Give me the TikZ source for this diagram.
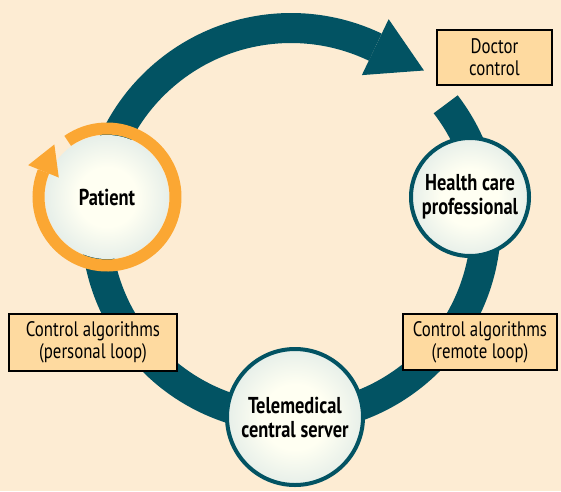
\documentclass[tikz,border=0pt]{standalone}
\usepackage{fontspec}
\setmainfont{PT Sans}[FakeStretch=0.8]
\usepackage{tikz}
\usetikzlibrary{calc,positioning}
\definecolor{bg}{HTML}{FDECD3}
\definecolor{loopteal}{HTML}{025363}
\definecolor{looporange}{HTML}{FBA733}
\definecolor{boxfill}{HTML}{FEDAA0}
\definecolor{discin}{HTML}{FFFFF2}
\definecolor{discout}{HTML}{B8D0D8}
\pgfdeclareradialshading{disc}{\pgfpoint{0bp}{0bp}}{color(0bp)=(discin); color(12bp)=(discin); color(50bp)=(discout)}
\tikzset{
	actor/.style = {circle, align=center, inner sep=0pt, shade, shading=disc,
		font=\bfseries\fontsize{23}{24}\selectfont},% cercle, degrade
	actor_p/.style = {actor, minimum size=124pt},% patient, sans bord
	actor_t/.style = {actor, draw=loopteal, line width=4pt},% bord sarcelle
	ctrl/.style = {rectangle, draw=black, line width=1.4pt, fill=boxfill,
		align=center, inner sep=0pt, font=\fontsize{21}{22}\selectfont}% boite
}
\begin{document}
\begin{tikzpicture}[x=1pt,y=1pt]
\fill[bg] (-291,-268) rectangle (270,223);
\useasboundingbox (-291,-268) rectangle (270,223);
\coordinate (hub) at (0,0);
% grande boucle
\draw[loopteal, line width=30pt] ($(hub)+(37.5:195)$)
	arc[start angle=37.5, end angle=-295.6, radius=195];
\fill[loopteal] ($(hub)+(64.4:226)$) -- ($(hub)+(64.4:195)+(-25.6:54)$)
	-- ($(hub)+(64.4:164)$) -- cycle;
% acteurs
\node [actor_p] (patient) at (-184,26) {Patient};
\draw[looporange, line width=12pt] ($(patient)+(125:68.5)$)
	arc[start angle=125, end angle=-202, radius=68.5];
\fill[looporange] ($(patient)+(158:85)$) -- ($(patient)+(158:68.5)+(68:29)$)
	-- ($(patient)+(158:52)$) -- cycle;
\node [actor_t, minimum size=118pt] (hcp) at (179,26) {Health care\\professional};
\node [actor_t, minimum size=136pt] (server) at (4,-194) {Telemedical\\central server};
% boites
\node [ctrl, minimum width=115pt, minimum height=55pt] (doctor) at (203.5,165.5) {Doctor\\control};
\node [ctrl, minimum width=168pt, minimum height=57pt] (personal) at (-198,-119.5) {Control algorithms\\(personal loop)};
\node [ctrl, minimum width=154pt, minimum height=56pt] (remote) at (189,-119) {Control algorithms\\(remote loop)};
\end{tikzpicture}
\end{document}
